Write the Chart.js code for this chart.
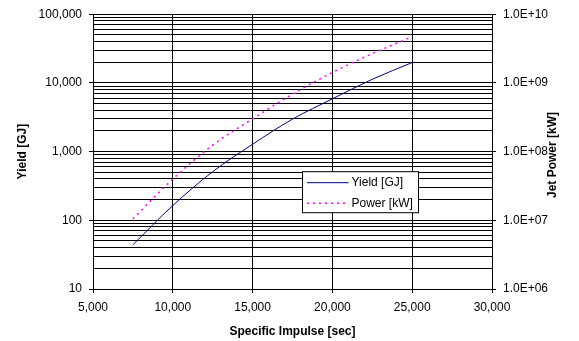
<!DOCTYPE html>
<html>
<head>
<meta charset="utf-8">
<script src="https://cdn.jsdelivr.net/npm/chart.js@4/dist/chart.umd.min.js"></script>
<style>
html, body { margin: 0; padding: 0; background: #fff; }
</style>
</head>
<body>
<canvas id="chart" width="579" height="341"></canvas>
<script>
// values
const impulse = [7500, 10000, 12500, 15000, 17500, 20000, 22500, 25000];
const yieldGJ = [44, 164, 510, 1280, 2970, 5860, 11300, 19800];
const powerKW = [1.05e7, 3.98e7, 1.24e8, 3.0e8, 6.86e8, 1.42e9, 2.67e9, 4.7e9];
const xTicks = [5000, 10000, 15000, 20000, 25000, 30000];
const yieldTicks = [10, 100, 1000, 10000, 100000];
const powerTicks = [1e6, 1e7, 1e8, 1e9, 1e10];

const FONT = "'Liberation Sans', Arial, sans-serif";
Chart.defaults.font.family = FONT;
Chart.defaults.font.size = 12;
Chart.defaults.color = '#000';

// 1..9 x each decade, so the minor grid lines show like in Excel
function decadeTicks(majors) {
    const out = [];
    for (let i = 0; i < majors.length; i++) {
        if (i === majors.length - 1) { out.push({ value: majors[i] }); break; }
        for (let k = 1; k < 10; k++) out.push({ value: majors[i] * k });
    }
    return out;
}
function isMajor(v, majors) {
    return majors.some(m => Math.abs(m - v) / m < 1e-9);
}
function expLabel(v) {
    const e = Math.round(Math.log10(v));
    return '1.0E+' + String(e).padStart(2, '0');
}

const boxLegend = {
    id: 'boxLegend',
    afterDraw(chart) {
        const ctx = chart.ctx;
        const a = chart.chartArea;
        const x = a.left + 209.5, y = a.top + 157.5, w = 116, h = 41;
        ctx.save();
        ctx.fillStyle = '#fff';
        ctx.fillRect(x, y, w, h);
        ctx.strokeStyle = '#000';
        ctx.lineWidth = 1;
        ctx.strokeRect(x, y, w, h);
        ctx.font = '12px ' + FONT;
        ctx.textBaseline = 'middle';
        chart.data.datasets.forEach((ds, i) => {
            const ly = y + 11 + i * 20.5;
            ctx.strokeStyle = ds.borderColor;
            ctx.lineWidth = ds.borderWidth;
            ctx.setLineDash(ds.borderDash || []);
            ctx.beginPath();
            ctx.moveTo(x + 4.5, ly);
            ctx.lineTo(x + 46, ly);
            ctx.stroke();
            ctx.setLineDash([]);
            ctx.fillStyle = '#000';
            ctx.fillText(ds.label, x + 49, ly);
        });
        // right axis title, reading bottom to top
        ctx.font = 'bold 12px ' + FONT;
        ctx.textAlign = 'center';
        ctx.translate(553, 155);
        ctx.rotate(-Math.PI / 2);
        ctx.fillText('Jet Power [kW]', 0, 0);
        ctx.restore();
    }
};

new Chart(document.getElementById('chart'), {
    type: 'line',
    data: {
        labels: impulse,
        datasets: [{
            label: 'Yield [GJ]',
            data: impulse.map((v, i) => ({ x: v, y: yieldGJ[i] })),
            borderColor: '#000080',
            borderWidth: 1,
            pointRadius: 0,
            cubicInterpolationMode: 'monotone',
            yAxisID: 'y'
        }, {
            label: 'Power [kW]',
            data: impulse.map((v, i) => ({ x: v, y: powerKW[i] })),
            borderColor: '#FF00FF',
            borderWidth: 1.5,
            borderDash: [2, 4],
            pointRadius: 0,
            cubicInterpolationMode: 'monotone',
            yAxisID: 'y1'
        }]
    },
    options: {
        responsive: false,
        animation: false,
        layout: { padding: { top: 14, left: 0, right: 0, bottom: 0 } },
        plugins: { legend: { display: false }, tooltip: { enabled: false } },
        scales: {
            x: {
                type: 'linear',
                min: 5000,
                max: 30000,
                afterBuildTicks: s => { s.ticks = xTicks.map(v => ({ value: v })); },
                afterFit: s => { s.height = 52; },
                ticks: {
                    padding: 7,
                    callback: v => v.toLocaleString('en-US')
                },
                grid: { color: '#000', lineWidth: 1, tickLength: 4, tickColor: '#000' },
                border: { color: '#000' },
                title: {
                    display: true,
                    text: 'Specific Impulse [sec]',
                    font: { weight: 'bold', size: 12 },
                    padding: { top: 0, bottom: 2 }
                }
            },
            y: {
                type: 'logarithmic',
                position: 'left',
                min: 10,
                max: 100000,
                afterBuildTicks: s => { s.ticks = decadeTicks(yieldTicks); },
                afterFit: s => { s.width = 93; },
                ticks: {
                    autoSkip: false,
                    padding: 7,
                    callback: v => isMajor(v, yieldTicks) ? v.toLocaleString('en-US') : ''
                },
                grid: {
                    color: '#000',
                    lineWidth: 1,
                    tickLength: 4,
                    tickColor: c => isMajor(c.tick.value, yieldTicks) ? '#000' : 'rgba(0,0,0,0)'
                },
                border: { color: '#000' },
                title: {
                    display: true,
                    text: 'Yield [GJ]',
                    font: { weight: 'bold', size: 12 },
                    padding: { top: 15, bottom: 0 }
                }
            },
            y1: {
                type: 'logarithmic',
                position: 'right',
                min: 1e6,
                max: 1e10,
                afterBuildTicks: s => { s.ticks = decadeTicks(powerTicks); },
                afterFit: s => { s.width = 87; },
                ticks: {
                    autoSkip: false,
                    padding: 7,
                    callback: v => isMajor(v, powerTicks) ? expLabel(v) : ''
                },
                grid: {
                    drawOnChartArea: false,
                    tickLength: 4,
                    tickColor: c => isMajor(c.tick.value, powerTicks) ? '#000' : 'rgba(0,0,0,0)'
                },
                border: { color: '#000' }
            }
        }
    },
    plugins: [boxLegend]
});
</script>
</body>
</html>
